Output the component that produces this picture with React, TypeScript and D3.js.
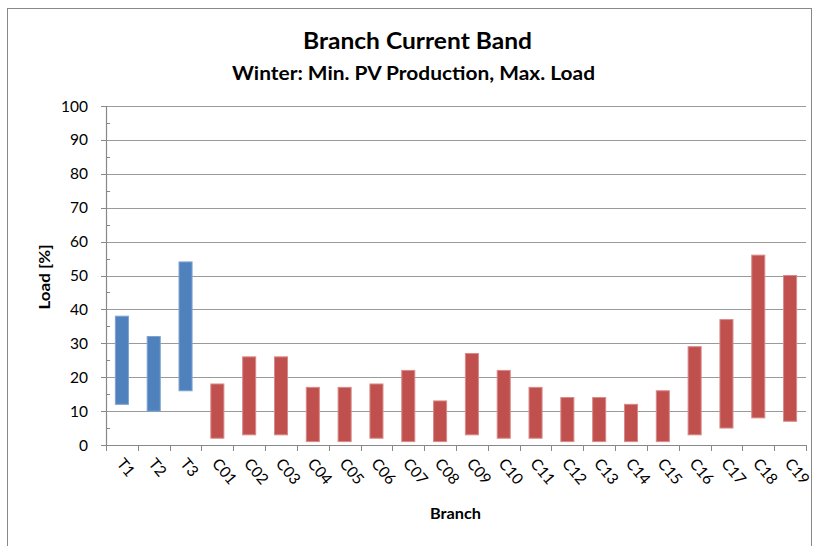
import React from "react";
import * as d3 from "d3";

const branches = ["T1","T2","T3","C01","C02","C03","C04","C05","C06","C07","C08","C09","C10","C11","C12","C13","C14","C15","C16","C17","C18","C19"];
const minLoad = [12,10,16,2,3,3,1,1,2,1,1,3,2,2,1,1,1,1,3,5,8,7];
const maxLoad = [38,32,54,18,26,26,17,17,18,22,13,27,22,17,14,14,12,16,29,37,56,50];
const yTicks = [0,10,20,30,40,50,60,70,80,90,100];
const yMinorTicks = [5,15,25,35,45,55,65,75,85,95];

const W = 816, H = 546;
const L = 106, R = 806, T = 106, B = 445;
const FONT = "Lato, 'Open Sans', sans-serif";

export default function App() {
  const x = d3.scaleBand<string>().domain(branches).range([L, R]).paddingInner(0).paddingOuter(0);
  const y = d3.scaleLinear().domain([0, 100]).range([B, T]);
  const bw = x.bandwidth() * 0.41;
  const color = (b: string) => (b.startsWith("T") ? "#4F81BD" : "#C0504D");
  const stroke = (b: string) => (b.startsWith("T") ? "#7EA2D2" : "#D98A88");
  const boundaries = d3.range(branches.length + 1).map(i => L + i * x.step());

  return (
    <svg width={W} height={H} style={{ position: "absolute", left: 0, top: 0 }}>
      <rect x={0} y={0} width={W} height={H} fill="#fff" />
      <rect x={7.5} y={8.5} width={804} height={560} fill="none" stroke="#888" strokeWidth={1} />
      <text x={417.5} y={49} textAnchor="middle" fontFamily={FONT} fontWeight="bold" fontSize={22} fill="#000"
        textLength={229} lengthAdjust="spacingAndGlyphs">Branch Current Band</text>
      <text x={413.5} y={80} textAnchor="middle" fontFamily={FONT} fontWeight="bold" fontSize={18} fill="#000"
        textLength={363} lengthAdjust="spacingAndGlyphs">Winter: Min. PV Production, Max. Load</text>
      {yTicks.filter(t => t > 0).map(t => (
        <line key={"g" + t} x1={L} x2={R} y1={Math.round(y(t)) + 0.5} y2={Math.round(y(t)) + 0.5} stroke="#9a9a9a" strokeWidth={1.2} />
      ))}
      {yTicks.map(t => (
        <g key={"yt" + t}>
          <line x1={L - 5} x2={L} y1={Math.round(y(t)) + 0.5} y2={Math.round(y(t)) + 0.5} stroke="#888" />
          <text x={L - 18} y={y(t) + 5.5} textAnchor="end" fontFamily={FONT} fontSize={15.5} fill="#000">{t}</text>
        </g>
      ))}
      {yMinorTicks.map(t => (
        <line key={"ym" + t} x1={L} x2={L + 4} y1={Math.round(y(t)) + 0.5} y2={Math.round(y(t)) + 0.5} stroke="#888" />
      ))}
      <line x1={L + 0.5} x2={L + 0.5} y1={T} y2={B} stroke="#888" strokeWidth={1.2} />
      <line x1={L} x2={R} y1={B + 0.5} y2={B + 0.5} stroke="#888" strokeWidth={1.2} />
      {boundaries.map((bx, i) => (
        <line key={"xt" + i} x1={Math.round(bx) + 0.5} x2={Math.round(bx) + 0.5} y1={B} y2={B + 6} stroke="#888" />
      ))}
      {branches.map((b, i) => (
        <rect key={b} x={(x(b) as number) + (x.bandwidth() - bw) / 2} y={y(maxLoad[i])} width={bw}
          height={y(minLoad[i]) - y(maxLoad[i])} fill={color(b)} stroke={stroke(b)} strokeWidth={1} />
      ))}
      {branches.map(b => {
        const cx = (x(b) as number) + x.bandwidth() / 2 - 6;
        const cy = B + 19;
        return (
          <text key={"xl" + b} x={cx} y={cy} transform={`rotate(50 ${cx} ${cy})`} fontFamily={FONT} fontSize={15.5} fill="#000">{b}</text>
        );
      })}
      <text x={455.5} y={519} textAnchor="middle" fontFamily={FONT} fontWeight="bold" fontSize={16} fill="#000"
        textLength={51} lengthAdjust="spacingAndGlyphs">Branch</text>
      <text transform={`translate(50 ${277}) rotate(-90)`} textAnchor="middle" fontFamily={FONT} fontWeight="bold" fontSize={16} fill="#000"
        textLength={65} lengthAdjust="spacingAndGlyphs">Load [%]</text>
    </svg>
  );
}
